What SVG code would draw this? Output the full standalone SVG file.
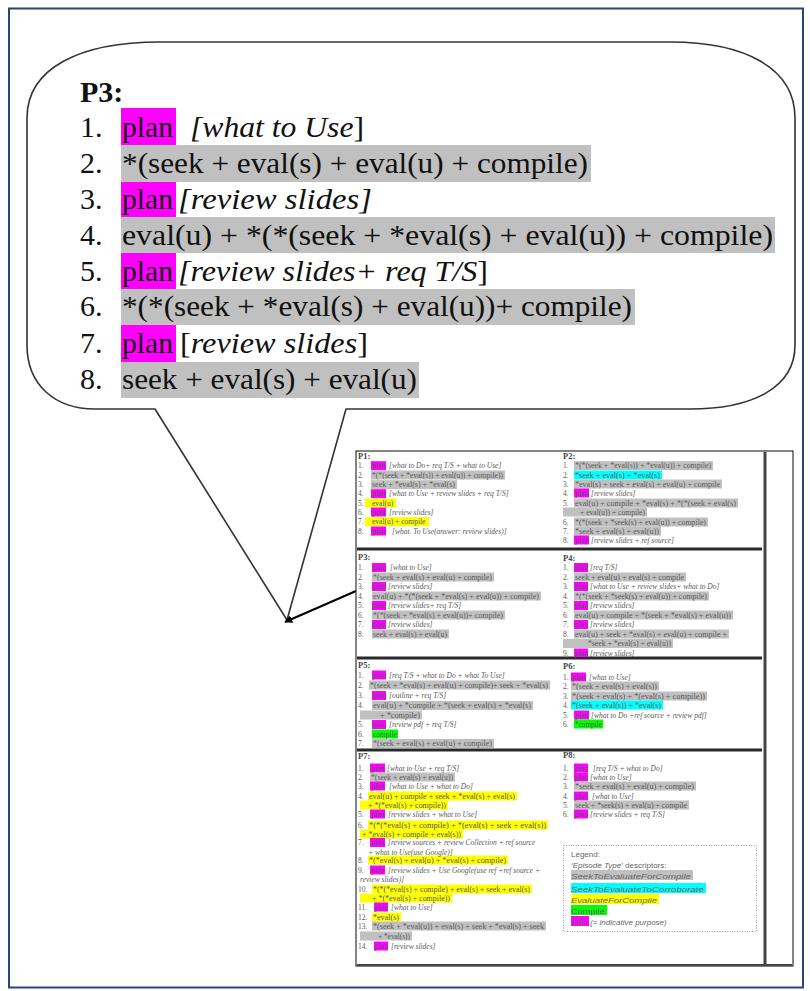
<svg xmlns="http://www.w3.org/2000/svg" width="810" height="991" viewBox="0 0 810 991">
<defs>
<style>
.big{font-family:"Liberation Serif","Times New Roman",serif;font-size:30px;fill:#111}
.bt{font-weight:bold}
.it{font-style:italic}
.s{font-family:"Liberation Serif","Times New Roman",serif;font-size:7.5px;fill:#5a5a5a}
.st{font-family:"Liberation Serif","Times New Roman",serif;font-size:8.5px;font-weight:bold;fill:#444}
.lg{font-family:"Liberation Sans",Arial,sans-serif;font-size:8px;fill:#666}
.m{fill:#ff00ff}
.g{fill:#c0c0c0}
.c{fill:#00ffff}
.y{fill:#ffff00}
.gr{fill:#00ff00}
.sep{stroke:#2a2a2a;stroke-width:3}
</style>
<marker id="ah" viewBox="0 0 10 10" refX="9" refY="5" markerWidth="8" markerHeight="8" markerUnits="userSpaceOnUse" orient="auto">
<path d="M0,0 L10,5 L0,10 Z" fill="#000"/>
</marker>
</defs>

<rect x="0" y="0" width="810" height="991" fill="#fff"/>
<rect x="9" y="8.5" width="794" height="979" fill="none" stroke="#27467a" stroke-width="2"/>

<!-- callout bubble with tail -->
<g id="callout">
<path d="M160,42 L670,42 C745,42 795,68 795,118 L795,345 C795,388 752,409 690,409 L346,409 L287,620 L155,409 L95,409 C55,409 27,385 27,345 L27,118 C27,68 80,42 160,42 Z" fill="#fff" stroke="#333" stroke-width="1.6" stroke-linejoin="round"/>
</g>

<!-- P3 listing -->
<g id="p3-list">
<text class="big bt" x="80" y="102">P3:</text>
<rect class="m" x="121" y="108" width="55" height="37"/>
<rect class="g" x="121" y="145" width="470" height="37"/>
<rect class="m" x="121" y="182" width="55" height="35"/>
<rect class="g" x="121" y="217" width="654" height="36"/>
<rect class="m" x="121" y="253" width="55" height="36"/>
<rect class="g" x="121" y="289" width="514" height="36"/>
<rect class="m" x="121" y="325" width="55" height="37"/>
<rect class="g" x="121" y="362" width="298" height="36"/>
<text class="big" x="80" y="137">1.</text>
<text class="big" x="122" y="137" textLength="51" lengthAdjust="spacingAndGlyphs">plan</text>
<text class="big" x="190" y="137" textLength="174" lengthAdjust="spacingAndGlyphs"><tspan class="it">[what to Use</tspan>]</text>
<text class="big" x="80" y="173">2.</text>
<text class="big" x="122" y="173" textLength="466" lengthAdjust="spacingAndGlyphs">*(seek + eval(s) + eval(u) + compile)</text>
<text class="big" x="80" y="208.5">3.</text>
<text class="big" x="122" y="208.5" textLength="51" lengthAdjust="spacingAndGlyphs">plan</text>
<text class="big it" x="178" y="208.5" textLength="194" lengthAdjust="spacingAndGlyphs">[review slides]</text>
<text class="big" x="80" y="244.5">4.</text>
<text class="big" x="122" y="244.5" textLength="651" lengthAdjust="spacingAndGlyphs">eval(u) + *(*(seek + *eval(s) +  eval(u)) + compile)</text>
<text class="big" x="80" y="280.5">5.</text>
<text class="big" x="122" y="280.5" textLength="51" lengthAdjust="spacingAndGlyphs">plan</text>
<text class="big" x="178" y="280.5" textLength="310" lengthAdjust="spacingAndGlyphs"><tspan class="it">[review slides+ req T/S</tspan>]</text>
<text class="big" x="80" y="316">6.</text>
<text class="big" x="122" y="316" textLength="510" lengthAdjust="spacingAndGlyphs">*(*(seek + *eval(s) + eval(u))+ compile)</text>
<text class="big" x="80" y="353">7.</text>
<text class="big" x="122" y="353" textLength="51" lengthAdjust="spacingAndGlyphs">plan</text>
<text class="big" x="180" y="353" textLength="188" lengthAdjust="spacingAndGlyphs">[<tspan class="it">review slides</tspan>]</text>
<text class="big" x="80" y="389">8.</text>
<text class="big" x="122" y="389" textLength="295" lengthAdjust="spacingAndGlyphs">seek + eval(s) + eval(u)</text>
</g>

<!-- connector from the overview sheet to the callout -->
<g id="connectors">
<line x1="356" y1="591" x2="285" y2="622" stroke="#000" stroke-width="2" marker-end="url(#ah)"/>
</g>

<!-- overview sheet -->
<g id="sheet">
<rect x="356" y="451" width="437" height="515" fill="#fff" stroke="#333" stroke-width="1.2"/>
<line x1="765" y1="452" x2="765" y2="965" stroke="#444" stroke-width="3"/>
<line x1="357" y1="965" x2="792" y2="965" stroke="#444" stroke-width="2"/>
<line class="sep" x1="357" y1="549" x2="762" y2="549"/>
<line class="sep" x1="357" y1="658" x2="762" y2="658"/>
<line class="sep" x1="357" y1="750" x2="762" y2="750"/>
</g>

<!-- P1 -->
<g id="p1">
<text class="st" x="358" y="459">P1:</text>
<rect class="m" x="371" y="461.2" width="15" height="9"/>
<rect class="g" x="371" y="470.5" width="134" height="9"/>
<rect class="g" x="371" y="480.2" width="86" height="9"/>
<rect class="m" x="371" y="489.2" width="15" height="9"/>
<rect class="y" x="365" y="498.5" width="31" height="9"/>
<rect class="m" x="371" y="507.5" width="15" height="9"/>
<rect class="y" x="365" y="517.2" width="64" height="9"/>
<rect class="m" x="371" y="526.5" width="15" height="9"/>
<text class="s" x="358" y="468.4">1.</text><text class="s" x="372" y="468.4">plan</text><text class="s it" x="389" y="468.4">[what to Do+ req T/S + what to Use]</text>
<text class="s" x="358" y="477.7">2.</text><text class="s" x="372" y="477.7" textLength="131" lengthAdjust="spacingAndGlyphs">*(*(seek + *eval(s)) + eval(u)) + compile))</text>
<text class="s" x="358" y="487.4">3.</text><text class="s" x="372" y="487.4" textLength="83" lengthAdjust="spacingAndGlyphs">seek + *eval(s) + *eval(s)</text>
<text class="s" x="358" y="496.4">4.</text><text class="s" x="372" y="496.4">plan</text><text class="s it" x="389" y="496.4">[what to Use + review slides + req T/S]</text>
<text class="s" x="358" y="505.7">5.</text><text class="s" x="372" y="505.7">eval(u)</text>
<text class="s" x="358" y="514.7">6.</text><text class="s" x="372" y="514.7">plan</text><text class="s it" x="389" y="514.7">[review slides]</text>
<text class="s" x="358" y="524.4">7.</text><text class="s" x="372" y="524.4">eval(u) + compile</text>
<text class="s" x="358" y="533.7">8.</text><text class="s" x="372" y="533.7">plan</text><text class="s it" x="392" y="533.7">[what. To Use(answer: review slides)]</text>
</g>

<!-- P2 -->
<g id="p2">
<text class="st" x="563" y="459">P2:</text>
<rect class="g" x="574" y="461.2" width="139" height="9"/>
<rect class="c" x="574" y="470.5" width="88" height="9"/>
<rect class="g" x="574" y="479.5" width="148" height="9"/>
<rect class="m" x="574" y="488.5" width="15" height="9"/>
<rect class="g" x="574" y="498.5" width="164" height="9"/>
<rect class="g" x="563" y="507.5" width="84" height="9"/>
<rect class="g" x="574" y="517.5" width="134" height="9"/>
<rect class="g" x="574" y="526.5" width="87" height="9"/>
<rect class="m" x="574" y="535.5" width="15" height="9"/>
<text class="s" x="563" y="468.4">1.</text><text class="s" x="575" y="468.4" textLength="136" lengthAdjust="spacingAndGlyphs">*(*(seek + *eval(s)) + *eval(u)) + compile)</text>
<text class="s" x="563" y="477.7">2.</text><text class="s" x="575" y="477.7" textLength="85" lengthAdjust="spacingAndGlyphs">*seek + eval(s) + *eval(s)</text>
<text class="s" x="563" y="486.7">3.</text><text class="s" x="575" y="486.7" textLength="145" lengthAdjust="spacingAndGlyphs">*eval(s) + seek + eval(s) + eval(u) + compile</text>
<text class="s" x="563" y="495.7">4.</text><text class="s" x="575" y="495.7">plan</text><text class="s it" x="591" y="495.7">[review slides]</text>
<text class="s" x="563" y="505.7">5.</text><text class="s" x="575" y="505.7" textLength="161" lengthAdjust="spacingAndGlyphs">eval(u) + compile + *eval(s) + *(*(seek + eval(s)</text>
<text class="s" x="580" y="514.7" textLength="65" lengthAdjust="spacingAndGlyphs">+ eval(u)) + compile)</text>
<text class="s" x="563" y="524.7">6.</text><text class="s" x="575" y="524.7" textLength="131" lengthAdjust="spacingAndGlyphs">*(*(seek + *seek(s) + eval(u)) + compile)</text>
<text class="s" x="563" y="533.7">7.</text><text class="s" x="575" y="533.7" textLength="84" lengthAdjust="spacingAndGlyphs">*seek + eval(s) + eval(u))</text>
<text class="s" x="563" y="542.7">8.</text><text class="s" x="575" y="542.7">plan</text><text class="s it" x="591" y="542.7">[review slides + ref source]</text>
</g>

<!-- P3 -->
<g id="p3">
<text class="st" x="358" y="560">P3:</text>
<rect class="m" x="372" y="563" width="14" height="9"/>
<rect class="g" x="372" y="572.5" width="122" height="9"/>
<rect class="m" x="372" y="582" width="14" height="9"/>
<rect class="g" x="372" y="591.5" width="169" height="9"/>
<rect class="m" x="372" y="601" width="14" height="9"/>
<rect class="g" x="372" y="610.5" width="133" height="9"/>
<rect class="m" x="372" y="620" width="14" height="9"/>
<rect class="g" x="372" y="629.5" width="77" height="9"/>
<text class="s" x="358" y="570.2">1.</text><text class="s" x="372.5" y="570.2">plan</text><text class="s it" x="390" y="570.2">[what to Use]</text>
<text class="s" x="358" y="579.7">2.</text><text class="s" x="373" y="579.7" textLength="119" lengthAdjust="spacingAndGlyphs">*(seek + eval(s) + eval(u) + compile)</text>
<text class="s" x="358" y="589.2">3.</text><text class="s" x="372.5" y="589.2">plan</text><text class="s it" x="388" y="589.2">[review slides]</text>
<text class="s" x="358" y="598.7">4.</text><text class="s" x="373" y="598.7" textLength="166" lengthAdjust="spacingAndGlyphs">eval(u) + *(*(seek + *eval(s) +  eval(u)) + compile)</text>
<text class="s" x="358" y="608.2">5.</text><text class="s" x="372.5" y="608.2">plan</text><text class="s it" x="388" y="608.2">[review slides+ req T/S]</text>
<text class="s" x="358" y="617.7">6.</text><text class="s" x="373" y="617.7" textLength="130" lengthAdjust="spacingAndGlyphs">*(*(seek + *eval(s) + eval(u))+ compile)</text>
<text class="s" x="358" y="627.2">7.</text><text class="s" x="372.5" y="627.2">plan</text><text class="s it" x="388" y="627.2">[review slides]</text>
<text class="s" x="358" y="636.7">8.</text><text class="s" x="373" y="636.7" textLength="74" lengthAdjust="spacingAndGlyphs">seek + eval(s) + eval(u)</text>
</g>

<!-- P4 -->
<g id="p4">
<text class="st" x="563" y="561">P4:</text>
<rect class="m" x="574" y="563" width="14" height="9"/>
<rect class="g" x="574" y="572.5" width="112" height="9"/>
<rect class="m" x="574" y="582" width="14" height="9"/>
<rect class="g" x="574" y="591.5" width="135" height="9"/>
<rect class="m" x="574" y="601" width="14" height="9"/>
<rect class="g" x="574" y="610.5" width="159" height="9"/>
<rect class="m" x="574" y="620" width="14" height="9"/>
<rect class="g" x="574" y="629.5" width="155" height="9"/>
<rect class="g" x="563" y="639" width="110" height="9"/>
<rect class="m" x="574" y="648.5" width="14" height="8.5"/>
<text class="s" x="563" y="570.2">1.</text><text class="s" x="574.5" y="570.2">plan</text><text class="s it" x="590" y="570.2">[req T/S]</text>
<text class="s" x="563" y="579.7">2.</text><text class="s" x="575" y="579.7" textLength="109" lengthAdjust="spacingAndGlyphs">seek + eval(u) + eval(s) + compile</text>
<text class="s" x="563" y="589.2">3.</text><text class="s" x="574.5" y="589.2">plan</text><text class="s it" x="590" y="589.2">[what to Use + review slides+ what to Do]</text>
<text class="s" x="563" y="598.7">4.</text><text class="s" x="575" y="598.7" textLength="132" lengthAdjust="spacingAndGlyphs">*(*(seek + *seek(s) + eval(u)) + compile)</text>
<text class="s" x="563" y="608.2">5.</text><text class="s" x="574.5" y="608.2">plan</text><text class="s it" x="590" y="608.2">[review slides]</text>
<text class="s" x="563" y="617.7">6.</text><text class="s" x="575" y="617.7" textLength="156" lengthAdjust="spacingAndGlyphs">eval(u) + compile + *(seek + *eval(s) + eval(u))</text>
<text class="s" x="563" y="627.2">7.</text><text class="s" x="574.5" y="627.2">plan</text><text class="s it" x="590" y="627.2">[review slides]</text>
<text class="s" x="563" y="636.7">8.</text><text class="s" x="575" y="636.7" textLength="152" lengthAdjust="spacingAndGlyphs">eval(u) + seek + *eval(s) + eval(u) + compile +</text>
<text class="s" x="588" y="646.2" textLength="83" lengthAdjust="spacingAndGlyphs">*seek + *eval(s) + eval(u))</text>
<text class="s" x="563" y="655.5">9.</text><text class="s" x="574.5" y="655.5">plan</text><text class="s it" x="590" y="655.5">[review slides]</text>
</g>

<!-- P5 -->
<g id="p5">
<text class="st" x="358" y="668">P5:</text>
<rect class="m" x="372" y="670.5" width="14" height="9"/>
<rect class="g" x="369" y="680.5" width="181" height="9"/>
<rect class="m" x="372" y="691" width="14" height="9"/>
<rect class="g" x="372" y="701" width="161" height="9"/>
<rect class="g" x="360" y="710.5" width="62" height="9"/>
<rect class="m" x="372" y="720" width="14" height="9"/>
<rect class="gr" x="372" y="729.5" width="26" height="9"/>
<rect class="g" x="372" y="739" width="122" height="9"/>
<text class="s" x="358" y="677.7">1.</text><text class="s" x="372.5" y="677.7">plan</text><text class="s it" x="389" y="677.7">[req T/S + what to Do + what To Use]</text>
<text class="s" x="358" y="687.7">2.</text><text class="s" x="370" y="687.7" textLength="178" lengthAdjust="spacingAndGlyphs">*(seek + *eval(s) + eval(u) + compile)+ seek + *eval(s)</text>
<text class="s" x="358" y="698.2">3.</text><text class="s" x="372.5" y="698.2">plan</text><text class="s it" x="389" y="698.2">[outline + req T/S]</text>
<text class="s" x="358" y="708.2">4.</text><text class="s" x="373" y="708.2" textLength="158" lengthAdjust="spacingAndGlyphs">eval(u) + *compile +  *(seek + eval(s) + *eval(s)</text>
<text class="s" x="380" y="717.7" textLength="40" lengthAdjust="spacingAndGlyphs">+ *compile)</text>
<text class="s" x="358" y="727.2">5.</text><text class="s" x="372.5" y="727.2">plan</text><text class="s it" x="389" y="727.2">[review pdf + req T/S]</text>
<text class="s" x="358" y="736.7">6.</text><text class="s" x="373" y="736.7" textLength="24" lengthAdjust="spacingAndGlyphs">compile</text>
<text class="s" x="358" y="746.2">7.</text><text class="s" x="373" y="746.2" textLength="119" lengthAdjust="spacingAndGlyphs">*(seek + eval(s) + eval(u) + compile)</text>
</g>

<!-- P6 -->
<g id="p6">
<text class="st" x="563" y="669">P6:</text>
<rect class="m" x="571" y="672.5" width="15" height="9"/>
<rect class="g" x="571" y="681.5" width="88" height="9"/>
<rect class="g" x="571" y="691.5" width="136" height="9"/>
<rect class="c" x="571" y="700.5" width="92" height="9"/>
<rect class="m" x="574" y="710.5" width="15" height="9"/>
<rect class="gr" x="574" y="719.5" width="29" height="9"/>
<text class="s" x="563" y="679.7">1.</text><text class="s" x="572" y="679.7">plan</text><text class="s it" x="589" y="679.7">[what to Use]</text>
<text class="s" x="563" y="688.7">2.</text><text class="s" x="572" y="688.7" textLength="85" lengthAdjust="spacingAndGlyphs">*(seek + eval(s) + eval(s))</text>
<text class="s" x="563" y="698.7">3.</text><text class="s" x="572" y="698.7" textLength="133" lengthAdjust="spacingAndGlyphs">*(seek + eval(s) + *(eval(s) + compile))</text>
<text class="s" x="563" y="707.7">4.</text><text class="s" x="572" y="707.7" textLength="89" lengthAdjust="spacingAndGlyphs">*(seek + eval(s)) + *eval(s)</text>
<text class="s" x="563" y="717.7">5.</text><text class="s" x="575" y="717.7">plan</text><text class="s it" x="591" y="717.7">[what to Do +ref source + review pdf]</text>
<text class="s" x="563" y="726.7">6.</text><text class="s" x="575" y="726.7" textLength="27" lengthAdjust="spacingAndGlyphs">*compile</text>
</g>

<!-- P7 -->
<g id="p7">
<text class="st" x="358" y="759">P7:</text>
<rect class="m" x="370" y="763.5" width="15" height="9"/>
<rect class="g" x="370" y="772.5" width="85" height="9"/>
<rect class="m" x="370" y="781.5" width="15" height="9"/>
<rect class="y" x="368" y="791.5" width="149" height="9"/>
<rect class="y" x="360" y="800.5" width="88" height="9"/>
<rect class="m" x="370" y="809.5" width="15" height="9"/>
<rect class="y" x="368" y="820.5" width="180" height="9"/>
<rect class="y" x="360" y="829.5" width="103" height="9"/>
<rect class="m" x="370" y="838" width="15" height="9"/>
<rect class="y" x="368" y="855.5" width="140" height="9"/>
<rect class="m" x="370" y="865.5" width="15" height="9"/>
<rect class="y" x="372" y="884.5" width="160" height="9"/>
<rect class="y" x="360" y="893.5" width="92" height="9"/>
<rect class="m" x="374" y="902.5" width="14" height="9"/>
<rect class="y" x="372" y="912.5" width="29" height="9"/>
<rect class="g" x="372" y="921.5" width="174" height="9"/>
<rect class="g" x="360" y="931.5" width="52" height="9"/>
<rect class="m" x="374" y="941.5" width="14" height="9"/>
<text class="s" x="358" y="770.7">1.</text><text class="s" x="371" y="770.7">plan</text><text class="s it" x="387" y="770.7">[what to Use + req T/S]</text>
<text class="s" x="358" y="779.7">2.</text><text class="s" x="371" y="779.7" textLength="82" lengthAdjust="spacingAndGlyphs">*(seek + eval(s) + eval(u))</text>
<text class="s" x="358" y="788.7">3.</text><text class="s" x="371" y="788.7">plan</text><text class="s it" x="389" y="788.7">[what to Use + what to Do]</text>
<text class="s" x="358" y="798.7">4.</text><text class="s" x="369" y="798.7" textLength="146" lengthAdjust="spacingAndGlyphs">eval(u) + compile + seek + *eval(s) + eval(s)</text>
<text class="s" x="368" y="807.7" textLength="78" lengthAdjust="spacingAndGlyphs">+ *(*eval(s) + compile))</text>
<text class="s" x="358" y="816.7">5.</text><text class="s" x="371" y="816.7">plan</text><text class="s it" x="388" y="816.7">[review slides + what to Use]</text>
<text class="s" x="358" y="827.7">6.</text><text class="s" x="369" y="827.7" textLength="177" lengthAdjust="spacingAndGlyphs">*(*(*eval(s) + compile) + *(eval(s) + seek + eval(s))</text>
<text class="s" x="362" y="836.7" textLength="99" lengthAdjust="spacingAndGlyphs">+ *eval(s) + compile + eval(s))</text>
<text class="s" x="358" y="845">7.</text><text class="s" x="371" y="845">plan</text><text class="s it" x="388" y="845">[review sources + review Collection + ref source</text>
<text class="s it" x="368" y="854.7">+ what to Use(use Google)]</text>
<text class="s" x="358" y="862.7">8.</text><text class="s" x="369" y="862.7" textLength="137" lengthAdjust="spacingAndGlyphs">*(*eval(s) + eval(u) + *eval(s) + compile)</text>
<text class="s" x="358" y="872.7">9.</text><text class="s" x="371" y="872.7">plan</text><text class="s it" x="388" y="872.7">[review slides + Use Google(use ref +ref source +</text>
<text class="s it" x="360" y="881.7">review slides)]</text>
<text class="s" x="358" y="891.7">10.</text><text class="s" x="373" y="891.7" textLength="157" lengthAdjust="spacingAndGlyphs">*(*(*eval(s) + compile) + eval(s) + seek + eval(s)</text>
<text class="s" x="372" y="900.7" textLength="78" lengthAdjust="spacingAndGlyphs">+ *(*eval(s) + compile))</text>
<text class="s" x="358" y="909.7">11.</text><text class="s" x="374.5" y="909.7">plan</text><text class="s it" x="391" y="909.7">[what to Use]</text>
<text class="s" x="358" y="919.7">12.</text><text class="s" x="373" y="919.7" textLength="26" lengthAdjust="spacingAndGlyphs">*eval(s)</text>
<text class="s" x="358" y="928.7">13.</text><text class="s" x="373" y="928.7" textLength="171" lengthAdjust="spacingAndGlyphs">*(seek + *eval(u)) + eval(s) + seek + *eval(s) + seek</text>
<text class="s" x="378" y="938.7" textLength="32" lengthAdjust="spacingAndGlyphs">+ *eval(s))</text>
<text class="s" x="358" y="948.7">14.</text><text class="s" x="374.5" y="948.7">plan</text><text class="s it" x="391" y="948.7">[review slides]</text>
</g>

<!-- P8 -->
<g id="p8">
<text class="st" x="563" y="758">P8:</text>
<rect class="m" x="574" y="763.5" width="14" height="9"/>
<rect class="m" x="574" y="772.5" width="14" height="9"/>
<rect class="g" x="574" y="781.5" width="122" height="9"/>
<rect class="m" x="574" y="791.5" width="14" height="9"/>
<rect class="g" x="574" y="800.5" width="115" height="9"/>
<rect class="m" x="574" y="809.5" width="14" height="9"/>
<text class="s" x="563" y="770.7">1.</text><text class="s" x="574.5" y="770.7">plan</text><text class="s it" x="593" y="770.7">[req T/S + what to Do]</text>
<text class="s" x="563" y="779.7">2.</text><text class="s" x="574.5" y="779.7">plan</text><text class="s it" x="590" y="779.7">[what to Use]</text>
<text class="s" x="563" y="788.7">3.</text><text class="s" x="575" y="788.7" textLength="119" lengthAdjust="spacingAndGlyphs">*seek + eval(s) + eval(u) + compile)</text>
<text class="s" x="563" y="798.7">4.</text><text class="s" x="574.5" y="798.7">plan</text><text class="s it" x="592" y="798.7">[what to Use]</text>
<text class="s" x="563" y="807.7">5.</text><text class="s" x="575" y="807.7" textLength="112" lengthAdjust="spacingAndGlyphs">seek + *seek(s) + eval(u) + compile</text>
<text class="s" x="563" y="816.7">6.</text><text class="s" x="574.5" y="816.7">plan</text><text class="s it" x="590" y="816.7">[review slides + req T/S]</text>
</g>

<!-- legend -->
<g id="legend">
<rect x="563.5" y="845.5" width="193" height="86" fill="none" stroke="#8fa3bf" stroke-width="1" stroke-dasharray="1 1.5"/>
<rect class="g" x="571" y="870" width="122" height="10"/>
<rect class="c" x="571" y="883" width="135" height="10"/>
<rect class="y" x="571" y="894" width="88" height="10"/>
<rect class="gr" x="571" y="905" width="36" height="10"/>
<rect class="m" x="571" y="916" width="18" height="10"/>
<text class="lg" x="571" y="857">Legend:</text>
<text class="lg" x="571" y="868"><tspan class="it">‘Episode Type’</tspan> descriptors:</text>
<text class="lg it" x="571" y="878.5" textLength="120" lengthAdjust="spacingAndGlyphs">SeekToEvaluateForCompile</text>
<text class="lg it" x="571" y="891.5" textLength="133" lengthAdjust="spacingAndGlyphs">SeekToEvaluateToCorroborate</text>
<text class="lg it" x="571" y="902.5" textLength="86" lengthAdjust="spacingAndGlyphs">EvaluateForCompile</text>
<text class="lg" x="571" y="913.5" textLength="34" lengthAdjust="spacingAndGlyphs">Compile</text>
<text class="lg" x="571" y="924.5">Plan</text>
<text class="lg it" x="590" y="924.5">(= indicative purpose)</text>
</g>
</svg>
